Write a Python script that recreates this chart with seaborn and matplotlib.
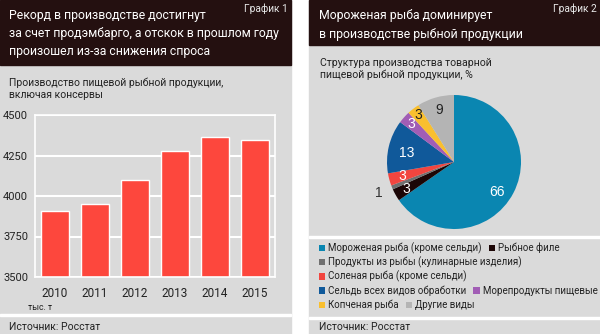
import matplotlib
matplotlib.use("Agg")
import matplotlib.pyplot as plt
import seaborn as sns
from matplotlib.patches import Rectangle
import pandas as pd
import numpy as np

# ---- data ----
years = ["2010", "2011", "2012", "2013", "2014", "2015"]
production = [3910, 3953, 4098, 4278, 4362, 4348]
yticks = [3500, 3750, 4000, 4250, 4500]

pie_labels = ["Мороженая рыба (кроме сельди)", "Рыбное филе",
              "Продукты из рыбы (кулинарные изделия)", "Соленая рыба (кроме сельди)",
              "Сельдь всех видов обработки", "Морепродукты пищевые",
              "Копченая рыба", "Другие виды"]
pie_values = [66, 3, 1, 3, 13, 3, 3, 9]
pie_colors = ["#0a86b1", "#1c0606", "#707070", "#f2453f",
              "#10599a", "#a15db5", "#f9bf2f", "#b4b4b4"]

sns.set_theme(style="white")
plt.rcParams["font.family"] = ["Roboto", "DejaVu Sans"]

W, H = 600, 334
fig = plt.figure(figsize=(6.0, 3.34), dpi=100)
fig.patch.set_facecolor("white")

def frect(x0, y0, x1, y1, color, z=-10):
    fig.patches.append(Rectangle((x0 / W, 1 - y1 / H), (x1 - x0) / W, (y1 - y0) / H,
                                 transform=fig.transFigure, color=color, zorder=z))

def ftext(x, y, s, **kw):
    fig.text(x / W, 1 - y / H, s, **kw)

DARK = "#241010"
GRAY = "#dadada"
TXT = "#222222"
# panels
frect(0, 0, 291, 334, GRAY)
frect(0, 0, 291, 65, DARK)
frect(309, 0, 600, 334, GRAY)
frect(309, 0, 600, 45, DARK)
# separators
frect(0, 314, 291, 316, "white", -9)
frect(309, 236, 600, 238, "white", -9)
frect(309, 317, 600, 319, "white", -9)

# headers
for i, line in enumerate(["Рекорд в производстве достигнут",
                          "за счет продэмбарго, а отскок в прошлом году",
                          "произошел из-за снижения спроса"]):
    ftext(9, 15 + i * 18.3, line, color="white", fontsize=8.8, va="center")
ftext(288, 9, "График 1", color="#e8e8e8", fontsize=7.3, ha="right", va="center")
for i, line in enumerate(["Мороженая рыба доминирует", "в производстве рыбной продукции"]):
    ftext(319, 15 + i * 19.5, line, color="white", fontsize=8.8, va="center")
ftext(597, 9, "График 2", color="#e8e8e8", fontsize=7.3, ha="right", va="center")

ftext(9, 89, "Производство пищевой рыбной продукции,\nвключая консервы", color=TXT,
      fontsize=7.5, va="center", linespacing=1.25)
ftext(320, 69, "Структура производства товарной\nпищевой рыбной продукции, %", color=TXT,
      fontsize=7.6, va="center", linespacing=1.25)

ftext(28, 307, "тыс. т", color=TXT, fontsize=6.3, va="center")
ftext(9, 327, "Источник: Росстат", color=TXT, fontsize=7.5, va="center")
ftext(319, 327, "Источник: Росстат", color=TXT, fontsize=7.5, va="center")

# ---- bar chart ----
ax = fig.add_axes([35 / W, 1 - 277 / H, 240 / W, 162 / H])
ax.set_facecolor("none")
df = pd.DataFrame({"year": years, "value": production})
sns.barplot(data=df, x="year", y="value", color="#fd473d", saturation=1, width=0.72, ax=ax)
ax.set_ylim(3500, 4500)
ax.set_yticks(yticks)
ax.set_xlabel("")
ax.set_ylabel("")
ax.yaxis.grid(True, color="white", linewidth=1.5)
ax.set_axisbelow(True)
for sp in ax.spines.values():
    sp.set_visible(True)
    sp.set_color("white")
    sp.set_linewidth(1.2)
ax.tick_params(axis="y", length=0, pad=5, labelsize=8, labelcolor=TXT)
ax.tick_params(axis="x", length=0, pad=7, labelsize=8.5, labelcolor=TXT)

# ---- pie ----
pax = fig.add_axes([(454 - 67) / W, 1 - (162 + 67) / H, 134 / W, 134 / H])
wedges, _ = pax.pie(pie_values, colors=pie_colors, startangle=90, counterclock=False,
                    radius=1.0, wedgeprops=dict(linewidth=0))
pax.set_xlim(-1.0, 1.0)
pax.set_ylim(-1.0, 1.0)
pax.set_aspect("equal")
pax.axis("off")

# (radial distance, angle offset in degrees, colour)
label_cfg = [(0.78, -7, "white"), (0.82, 0, "white"), (1.22, 0, "#333333"), (0.8, 0, "white"),
             (0.72, 3, "white"), (0.85, 0, "white"), (0.88, 0, "#222222"), (0.8, 0, "#222222")]
for v, w, (r, da, c) in zip(pie_values, wedges, label_cfg):
    mid = np.deg2rad((w.theta1 + w.theta2) / 2 + da)
    pax.text(r * np.cos(mid), r * np.sin(mid), str(v), ha="center", va="center",
             color=c, fontsize=10, family=["Liberation Sans", "DejaVu Sans"], clip_on=False)

# ---- legend rows ----
rows = [[0, 1], [2], [3], [4, 5], [6, 7]]
for i, row in enumerate(rows):
    y = 248 + i * 14.3
    leg = fig.legend([wedges[k] for k in row], [pie_labels[k] for k in row],
                     loc="center left", bbox_to_anchor=(319 / W, 1 - y / H), ncol=len(row),
                     frameon=False, fontsize=7.0, handlelength=0.65, handleheight=0.65,
                     handletextpad=0.3, columnspacing=0.7, borderaxespad=0, borderpad=0)
    for t in leg.get_texts():
        t.set_color(TXT)

fig.savefig("out.png", dpi=100, facecolor=fig.get_facecolor())
